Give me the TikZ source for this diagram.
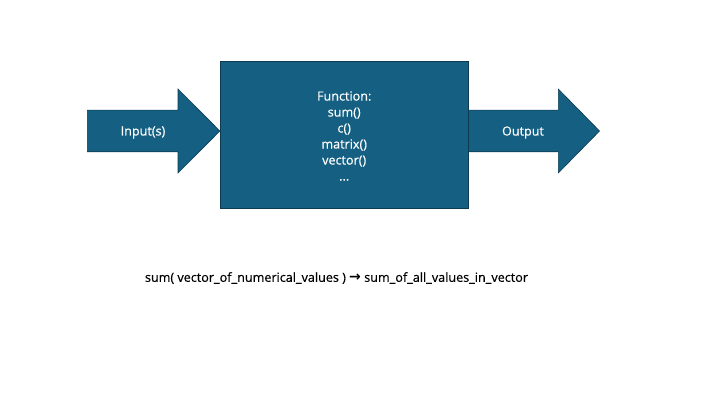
\documentclass[tikz,border=0pt]{standalone}
\usepackage{fontspec}
\setmainfont{Open Sans}
\newfontfamily\medfont{Open Sans}[FakeBold=0.5]
\newfontfamily\symfont{DejaVu Sans}
\definecolor{fnblue}{HTML}{156082}
\definecolor{fnedge}{HTML}{0E3B52}
\begin{document}
\begin{tikzpicture}[x=1pt,y=1pt,
  blockshape/.style={fill=fnblue,draw=fnedge,line width=0.6pt},
  whitetext/.style={text=white,font=\medfont\fontsize{12.6}{16}\selectfont,align=center,inner sep=0pt},
  plaintext/.style={text=black,font=\medfont\fontsize{12.6}{16}\selectfont,inner sep=0pt}]
\useasboundingbox (0,0) rectangle (720,405);
\fill[white] (0,0) rectangle (720,405);
% input arrow
\draw[blockshape] (87.3,294.8) -- (178,294.8) -- (178,316) -- (219.8,274) -- (178,232) -- (178,253.2) -- (87.3,253.2) -- cycle;
% output arrow
\draw[blockshape] (468.3,294.8) -- (558.3,294.8) -- (558.3,316) -- (599.5,274) -- (558.3,232) -- (558.3,253.2) -- (468.3,253.2) -- cycle;
% function box
\node[blockshape,minimum width=248.3pt,minimum height=146.6pt,inner sep=0pt] (fn) at (344.2,270) {};
\node[whitetext] (fntext) at (344.2,269) {Function:\\sum()\\c()\\matrix()\\vector()\\...};
\node[whitetext] (inlbl) at (143,272.5) {Input(s)};
\node[whitetext] (outlbl) at (523,272.5) {Output};
\node[plaintext] (example) at (336.5,127) {sum( vector\_of\_numerical\_values ) {\symfont\bfseries\fontsize{14}{16}\selectfont →} sum\_of\_all\_values\_in\_vector};
\end{tikzpicture}
\end{document}
